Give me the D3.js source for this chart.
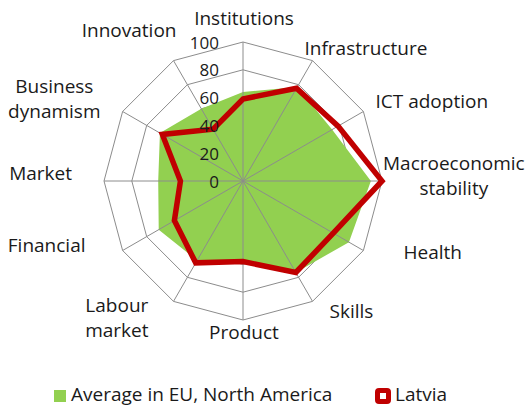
<!DOCTYPE html>
<html>
<head>
<meta charset="utf-8">
<script src="https://cdn.jsdelivr.net/npm/d3@7/dist/d3.min.js"></script>
<style>
  body { margin: 0; background: #fff; }
  svg text { font-family: "Open Sans", sans-serif; fill: #1a1a1a; }
</style>
</head>
<body>
<div id="chart"></div>
<script>

// categories, clockwise from the top
const categories = [
    ['Institutions'], ['Infrastructure'], ['ICT adoption'], ['Macroeconomic', 'stability'],
    ['Health'], ['Skills'], ['Product'], ['Labour', 'market'],
    ['Financial'], ['Market'], ['Business', 'dynamism'], ['Innovation']
];
const avgValues    = [64, 78, 74, 92, 88, 76, 57, 66, 70, 61, 69, 60];
const latviaValues = [59, 77, 79, 100, 75, 76, 58, 68, 57, 45, 67, 43];
const tickValues   = [0, 20, 40, 60, 80, 100];
const seriesNames  = ['Average in EU, North America', 'Latvia'];

// label nudges (layout only)
const labelNudge = [
    [1, 0], [-15, 9], [0, 3], [-13, -4], [28, -8], [10, -8],
    [1, -9], [-18, -12], [-25, -15], [-18, -6], [-10, 6], [10, -9]
];

//dimensions
let dimensions = { width: 529, height: 408, cx: 243, cy: 181, radius: 139 };
const fontSize = 19;

const svg = d3.select('#chart').append('svg')
    .attr('width', dimensions.width)
    .attr('height', dimensions.height);

const bounds = svg.append('g')
    .attr('transform', `translate(${dimensions.cx},${dimensions.cy})`);

const rScale = d3.scaleLinear().domain([0, 100]).range([0, dimensions.radius]);
const n = categories.length;
const angle = i => i * 2 * Math.PI / n;

const radial = d3.lineRadial()
    .angle((d, i) => angle(i))
    .radius(d => rScale(d))
    .curve(d3.curveLinearClosed);

// rings (behind the area)
bounds.selectAll('.ring')
    .data(tickValues.filter(t => t > 0))
    .join('path')
    .attr('d', t => radial(d3.range(n).map(() => t)))
    .style('fill', 'none')
    .style('stroke', '#8c8c8c')
    .style('stroke-width', 1);

// average area
bounds.append('path')
    .attr('d', radial(avgValues))
    .style('fill', '#92d050');

// spokes
bounds.selectAll('.spoke')
    .data(d3.range(n))
    .join('line')
    .attr('x1', 0).attr('y1', 0)
    .attr('x2', i => rScale(100) * Math.sin(angle(i)))
    .attr('y2', i => -rScale(100) * Math.cos(angle(i)))
    .style('stroke', '#8c8c8c')
    .style('stroke-width', 1);

// latvia line
bounds.append('path')
    .attr('d', radial(latviaValues))
    .style('fill', 'none')
    .style('stroke', '#c00000')
    .style('stroke-width', 5.5)
    .style('stroke-linejoin', 'miter');

// tick labels
bounds.selectAll('.tick')
    .data(tickValues)
    .join('text')
    .attr('x', -24)
    .attr('y', t => -rScale(t) + 2)
    .attr('text-anchor', 'end')
    .attr('dominant-baseline', 'middle')
    .style('font-size', '17px')
    .text(t => t);

// category labels (lines centred inside their block)
const lineH = 25;
categories.forEach((lines, i) => {
    const a = angle(i);
    const s = Math.sin(a), c = Math.cos(a);
    const rl = dimensions.radius + 14;
    const blockH = 17 + (lines.length - 1) * lineH;
    const yc = -rl * c - c * blockH / 2 + labelNudge[i][1];
    const y0 = yc - (lines.length - 1) * lineH / 2;
    const t = bounds.append('text')
        .attr('text-anchor', 'middle')
        .style('font-size', fontSize + 'px');
    const spans = lines.map((ln, k) => t.append('tspan')
        .attr('y', y0 + k * lineH)
        .attr('dominant-baseline', 'middle')
        .text(ln));
    const w = d3.max(spans, sp => sp.node().getComputedTextLength());
    let x = rl * s + labelNudge[i][0];
    if (Math.abs(s) >= 0.01) x += (s > 0 ? 1 : -1) * w / 2;
    spans.forEach(sp => sp.attr('x', x));
});

// legend
const legend = svg.append('g').attr('transform', 'translate(0,396)');
legend.append('rect')
    .attr('x', 54).attr('y', -6).attr('width', 12).attr('height', 12)
    .style('fill', '#92d050');
legend.append('text')
    .attr('x', 71).attr('y', 0)
    .attr('dominant-baseline', 'middle')
    .style('font-size', fontSize + 'px')
    .text(seriesNames[0]);
legend.append('rect')
    .attr('x', 377.5).attr('y', -5.5).attr('width', 11).attr('height', 11)
    .attr('rx', 1.5)
    .style('fill', '#fff')
    .style('stroke', '#c00000')
    .style('stroke-width', 5);
legend.append('text')
    .attr('x', 395).attr('y', 0)
    .attr('dominant-baseline', 'middle')
    .style('font-size', fontSize + 'px')
    .text(seriesNames[1]);

</script>
</body>
</html>
